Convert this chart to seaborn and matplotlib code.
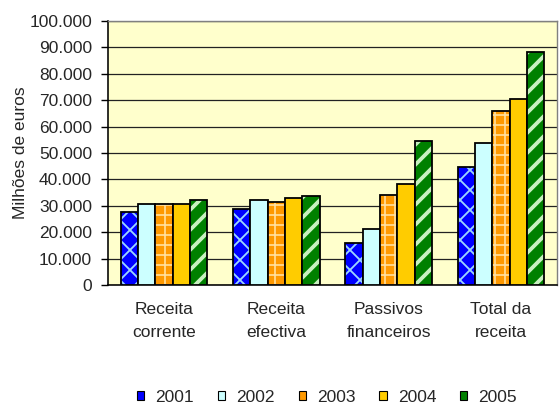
import matplotlib
matplotlib.use("Agg")
import matplotlib.pyplot as plt
import seaborn as sns
import pandas as pd
from matplotlib.patches import Patch
from matplotlib.colors import to_rgba
from matplotlib.ticker import FuncFormatter, FixedLocator

categories = ["Receita\ncorrente", "Receita\nefectiva", "Passivos\nfinanceiros", "Total da\nreceita"]
years = ["2001", "2002", "2003", "2004", "2005"]
v2001 = [27800, 28700, 16000, 44700]
v2002 = [30600, 32300, 21100, 53900]
v2003 = [30600, 31600, 34100, 65900]
v2004 = [30600, 32800, 38100, 70300]
v2005 = [32200, 33600, 54500, 88100]
yticks = [0, 10000, 20000, 30000, 40000, 50000, 60000, 70000, 80000, 90000, 100000]

colors = ["#0000FF", "#CCFFFF", "#FF9900", "#FFCC00", "#008000"]
faces = ["#0000FF", "#CCFFFF", "#FF9900", "#FFCC00", "#008000"]
hatches = ["xx", None, "++", None, "//"]
hatch_colors = ["#9CD6FF", None, "#FFE0A0", None, "#C8F0C0"]

DPI = 120
PT = 72 / DPI  # points per pixel
hatch_lws = [1.1, 1.0, 1.0, 1.0, 2.3]

series = [v2001, v2002, v2003, v2004, v2005]
df = pd.DataFrame({
    "cat": [c for s in series for c in categories],
    "year": [y for y, s in zip(years, series) for _ in s],
    "val": [v for s in series for v in s],
})

sns.set_style("white")
plt.rcParams["font.family"] = ["Liberation Sans", "DejaVu Sans"]
FS = 17.4 * PT
plt.rcParams["font.size"] = FS

fig = plt.figure(figsize=(560 / DPI, 405 / DPI), dpi=DPI)
ax = fig.add_axes([108 / 560, 1 - 285 / 405, 449 / 560, 264 / 405])
ax.set_facecolor("#FFFFCC")

sns.barplot(data=df, x="cat", y="val", hue="year", order=categories, hue_order=years,
            palette=colors, width=0.77, edgecolor="black", linewidth=1.8 * PT,
            saturation=1, legend=False, ax=ax, zorder=3)

for i, cont in enumerate(ax.containers):
    for p in cont.patches:
        p.set_facecolor(faces[i])
        p.set_edgecolor("black")
        p.set_linewidth(1.8 * PT)
        if hatches[i]:
            p.set_hatch(hatches[i])
            p._hatch_color = to_rgba(hatch_colors[i])
            if hasattr(p, "set_hatch_linewidth"):
                p.set_hatch_linewidth(hatch_lws[i])

ax.set_ylim(0, 100000)
ax.set_xlim(-0.5, 3.5)
ax.yaxis.set_major_locator(FixedLocator(yticks))
ax.yaxis.set_major_formatter(FuncFormatter(lambda v, p: f"{int(v):,}".replace(",", ".")))
ax.grid(axis="y", color="#222222", linewidth=1.25 * PT, zorder=0)
ax.set_axisbelow(True)

ax.set_xticks(range(len(categories)))
ax.set_xticklabels(categories, linespacing=1.65)
ax.set_xticks([-0.5, 0.5, 1.5, 2.5, 3.5], minor=True)
ax.tick_params(axis="x", which="major", length=0, pad=17 * PT)
ax.tick_params(axis="x", which="minor", length=7 * PT, direction="out", color="black", width=1.4 * PT)
ax.tick_params(axis="y", length=7 * PT, direction="out", color="black", width=1.4 * PT,
               left=True, pad=9 * PT)

ax.set_xlabel("")
ax.set_ylabel("Milhões de euros", labelpad=1 * PT)

for s in ["left", "bottom"]:
    ax.spines[s].set_color("black")
    ax.spines[s].set_linewidth(1.6 * PT)
for s in ["top", "right"]:
    ax.spines[s].set_visible(True)
    ax.spines[s].set_color("#808080")
    ax.spines[s].set_linewidth(1.4 * PT)

handles = []
for i, y in enumerate(years):
    h = Patch(facecolor=colors[i], edgecolor="black", linewidth=1.1 * PT, label=y)
    handles.append(h)
leg = fig.legend(handles=handles, loc="center", bbox_to_anchor=(327 / 560, 1 - 397 / 405),
                 ncol=5, frameon=False, handlelength=0.42, handleheight=0.42,
                 handletextpad=0.63, columnspacing=1.38, fontsize=FS)

fig.savefig("out.png", dpi=DPI)
